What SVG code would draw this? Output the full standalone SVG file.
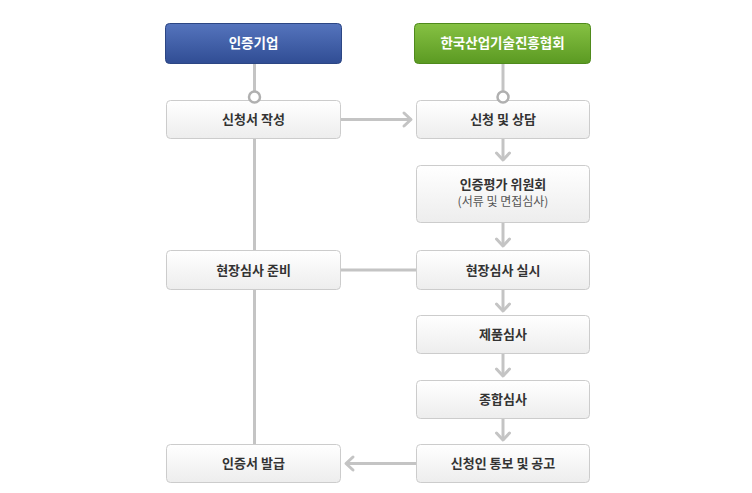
<svg xmlns="http://www.w3.org/2000/svg" width="752" height="493" viewBox="0 0 752 493">
<defs>
<linearGradient id="gBox" x1="0" y1="0" x2="0" y2="1"><stop offset="0" stop-color="#ffffff"/><stop offset="1" stop-color="#ededed"/></linearGradient>
<linearGradient id="gBlue" x1="0" y1="0" x2="0" y2="1"><stop offset="0" stop-color="#5574bd"/><stop offset="1" stop-color="#304d94"/></linearGradient>
<linearGradient id="gGreen" x1="0" y1="0" x2="0" y2="1"><stop offset="0" stop-color="#86c143"/><stop offset="1" stop-color="#5b9a22"/></linearGradient>
<style>
.box{fill:url(#gBox);stroke:#cccccc;stroke-width:1}
.t{font-family:"Noto Sans CJK KR","Noto Sans",sans-serif;font-size:13px;font-weight:bold;fill:#333333;text-anchor:middle}
.s{font-family:"Noto Sans CJK KR","Noto Sans",sans-serif;font-size:12px;fill:#555555;text-anchor:middle}
.h{font-family:"Noto Sans CJK KR","Noto Sans",sans-serif;font-size:13.5px;font-weight:bold;fill:#ffffff;text-anchor:middle}
.ln{stroke:#c4c4c4;stroke-width:3;fill:none}
.ah{stroke:#c4c4c4;stroke-width:3;fill:none;stroke-linecap:round;stroke-linejoin:round}
.dot{fill:#ffffff;stroke:#b0b0b0;stroke-width:2.5}
</style>
</defs>
<rect width="752" height="493" fill="#ffffff"/>
<g id="connectors">
<line class="ln" x1="254.5" y1="64" x2="254.5" y2="444"/>
<line class="ln" x1="503" y1="64" x2="503" y2="100"/>
<line class="ln" x1="341" y1="119.5" x2="411" y2="119.5"/>
<polyline class="ah" points="404,113 411,119.5 404,126"/>
<line class="ln" x1="503" y1="139" x2="503" y2="160"/>
<polyline class="ah" points="496.5,153 503,160 509.5,153"/>
<line class="ln" x1="503" y1="223" x2="503" y2="246"/>
<polyline class="ah" points="496.5,239 503,246 509.5,239"/>
<line class="ln" x1="341" y1="270" x2="416" y2="270"/>
<line class="ln" x1="503" y1="290" x2="503" y2="311"/>
<polyline class="ah" points="496.5,304 503,311 509.5,304"/>
<line class="ln" x1="503" y1="354" x2="503" y2="376"/>
<polyline class="ah" points="496.5,369 503,376 509.5,369"/>
<line class="ln" x1="503" y1="419" x2="503" y2="440"/>
<polyline class="ah" points="496.5,433 503,440 509.5,433"/>
<line class="ln" x1="416" y1="463.5" x2="346" y2="463.5"/>
<polyline class="ah" points="353,457 346,463.5 353,470"/>
</g>
<g id="n-company"><rect x="165.5" y="23.5" width="176" height="40" rx="4" fill="url(#gBlue)" stroke="#2c4684"/><text class="h" x="253.5" y="48">인증기업</text></g>
<g id="n-assoc"><rect x="414.5" y="23.5" width="176" height="40" rx="4" fill="url(#gGreen)" stroke="#4f8a1c"/><text class="h" x="502.5" y="48">한국산업기술진흥협회</text></g>
<g id="n-write"><rect class="box" x="166.5" y="100.5" width="174" height="38" rx="4"/><text class="t" x="253.5" y="124">신청서 작성</text></g>
<g id="n-apply"><rect class="box" x="416.5" y="100.5" width="173" height="38" rx="4"/><text class="t" x="503" y="124">신청 및 상담</text></g>
<g id="n-committee"><rect class="box" x="416.5" y="165.5" width="173" height="57" rx="4"/><text class="t" x="503" y="189">인증평가 위원회</text><text class="s" x="503" y="206">(서류 및 면접심사)</text></g>
<g id="n-prep"><rect class="box" x="166.5" y="250.5" width="174" height="39" rx="4"/><text class="t" x="253.5" y="275">현장심사 준비</text></g>
<g id="n-onsite"><rect class="box" x="416.5" y="250.5" width="173" height="39" rx="4"/><text class="t" x="503" y="275">현장심사 실시</text></g>
<g id="n-product"><rect class="box" x="416.5" y="315.5" width="173" height="38" rx="4"/><text class="t" x="503" y="339">제품심사</text></g>
<g id="n-total"><rect class="box" x="416.5" y="380.5" width="173" height="38" rx="4"/><text class="t" x="503" y="404">종합심사</text></g>
<g id="n-notice"><rect class="box" x="416.5" y="444.5" width="173" height="38" rx="4"/><text class="t" x="503" y="468">신청인 통보 및 공고</text></g>
<g id="n-issue"><rect class="box" x="166.5" y="444.5" width="174" height="38" rx="4"/><text class="t" x="253.5" y="468">인증서 발급</text></g>
<g id="junctions">
<circle class="dot" cx="254.5" cy="97" r="5.5"/>
<circle class="dot" cx="503" cy="97" r="5.5"/>
</g>
</svg>
